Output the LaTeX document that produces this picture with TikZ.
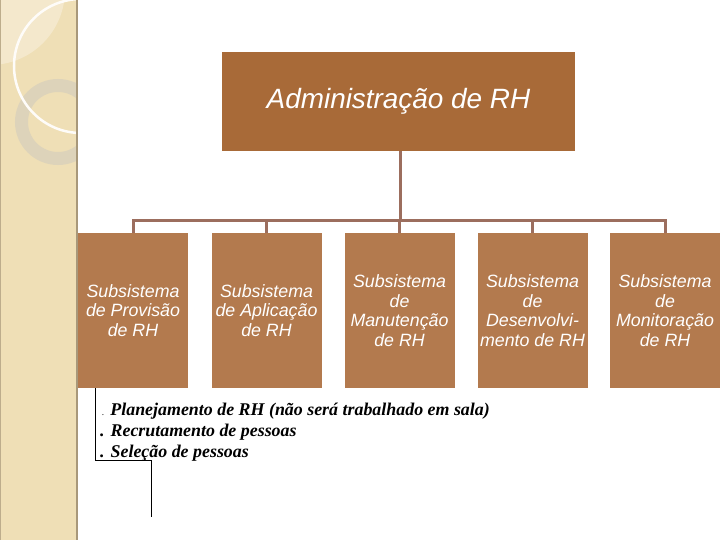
\documentclass[tikz,border=0pt]{standalone}
\usepackage{fontspec}
\setmainfont{Liberation Serif}
\newfontfamily\boxfont{Liberation Sans}
\definecolor{panel}{HTML}{EFDFB6}
\definecolor{panellight}{HTML}{F4E8CC}
\definecolor{ringcol}{HTML}{DDD3BA}
\definecolor{paneledge}{HTML}{A8987A}
\definecolor{mainbox}{HTML}{A86A38}
\definecolor{subbox}{HTML}{B37A4E}
\definecolor{conncol}{HTML}{9C6E5E}
\tikzset{
  mainstyle/.style={fill=mainbox, minimum width=353pt, minimum height=99pt, inner sep=0pt,
    text=white, font=\boxfont\itshape\fontsize{27.9}{32}\selectfont},
  substyle/.style={fill=subbox, minimum width=110pt, minimum height=155pt, inner sep=0pt,
    text=white, align=center, font=\boxfont\itshape\fontsize{17.8}{19.6}\selectfont},
  conn/.style={draw=conncol, line width=3pt},
  bullet/.style={anchor=base west, inner sep=0pt, font=\bfseries\itshape\fontsize{17.9}{21}\selectfont}
}
\begin{document}
\begin{tikzpicture}[x=1pt,y=-1pt]
\useasboundingbox (0,0) rectangle (720,540);
\fill[white] (0,0) rectangle (720,540);
% left decorative panel
\begin{scope}
  \clip (0,0) rectangle (77,540);
  \fill[panel] (0,0) rectangle (77,540);
  \fill[panellight] (-10,-10) circle[radius=75];
  \draw[ringcol, line width=13pt] (58,122) circle[radius=36.5];
  \draw[white!92!panel, line width=2.5pt] (81,66) circle[radius=67];
\end{scope}
\draw[paneledge, line width=2pt] (77,0) -- (77,540);
\draw[paneledge!70!panel, line width=1pt] (0.5,0) -- (0.5,540);
% boxes
\node[mainstyle] (main) at (398.5,101.5) {Administração de RH};
\node[substyle] (b1) at (133,310.5) {Subsistema\\de Provisão\\de RH};
\node[substyle] (b2) at (266.5,310.5) {Subsistema\\de Aplicação\\de RH};
\node[substyle] (b3) at (399.5,310.5) {Subsistema\\de\\Manutenção\\de RH};
\node[substyle] (b4) at (532.5,310.5) {Subsistema\\de\\Desenvolvi-\\mento de RH};
\node[substyle] (b5) at (665,310.5) {Subsistema\\de\\Monitoração\\de RH};
% connectors
\coordinate (bus) at (400,221);
\draw[conn] (main.south -| bus) -- (bus);
\draw[conn] (b1.north) -- (b1.north |- bus) -- (b5.north |- bus) -- (b5.north);
\draw[conn] (b2.north) -- (b2.north |- bus);
\draw[conn] (b3.north) -- (b3.north |- bus);
\draw[conn] (b4.north) -- (b4.north |- bus);
% text list
\node[bullet] (l1) at (102,415) {{\mdseries\fontsize{9}{10}\selectfont.} Planejamento de RH (não será trabalhado em sala)};
\node[bullet] (l2) at (100,436) {. Recrutamento de pessoas};
\node[bullet] (l3) at (100,457) {. Seleção de pessoas};
% thin black bracket line
\coordinate (k1) at (95,460);
\coordinate (k2) at (151,517);
\draw[black, line width=1pt] (b1.south -| k1) -- (k1) -| (k2);
\end{tikzpicture}
\end{document}
